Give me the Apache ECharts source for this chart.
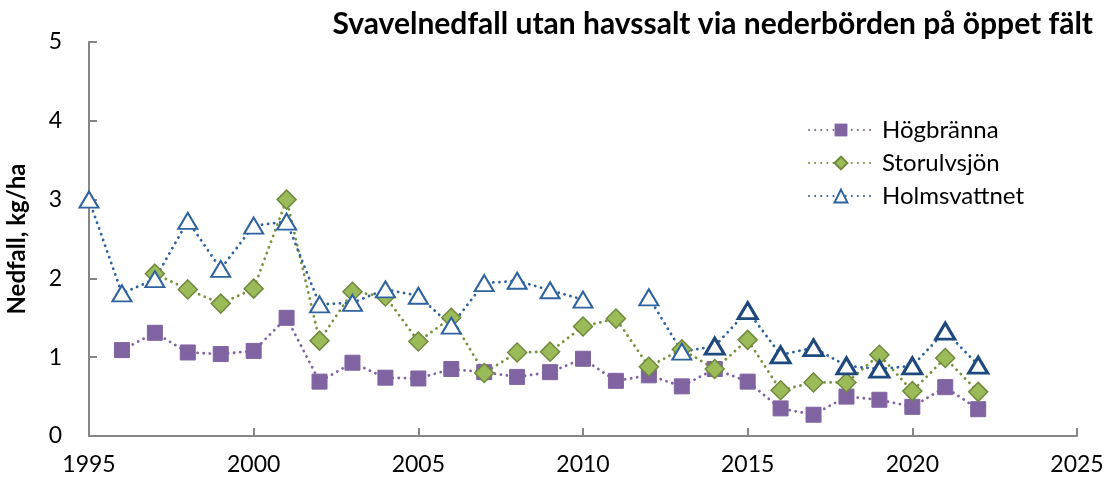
<!DOCTYPE html>
<html>
<head>
<meta charset="utf-8">
<script src="https://cdn.jsdelivr.net/npm/echarts@6/dist/echarts.min.js"></script>
<style>
  html, body { margin: 0; padding: 0; background: #fff; }
  #chart { width: 1110px; height: 484px; }
</style>
</head>
<body>
<div id="chart"></div>
<script>
// Svavelnedfall, kg/ha per år
const years = [1995, 1996, 1997, 1998, 1999, 2000, 2001, 2002, 2003, 2004, 2005, 2006, 2007, 2008,
               2009, 2010, 2011, 2012, 2013, 2014, 2015, 2016, 2017, 2018, 2019, 2020, 2021, 2022];
const hogbranna = [null, 1.09, 1.31, 1.06, 1.04, 1.08, 1.50, 0.69, 0.93, 0.74, 0.73, 0.85, 0.81, 0.75,
                   0.81, 0.98, 0.70, 0.77, 0.63, 0.85, 0.69, 0.35, 0.27, 0.50, 0.46, 0.37, 0.62, 0.34];
const storulvsjon = [null, null, 2.06, 1.86, 1.68, 1.87, 3.00, 1.21, 1.83, 1.77, 1.20, 1.50, 0.80, 1.06,
                     1.07, 1.39, 1.49, 0.88, 1.10, 0.85, 1.22, 0.58, 0.68, 0.68, 1.03, 0.57, 0.99, 0.56];
const holmsvattnet = [3.00, 1.81, 1.99, 2.73, 2.12, 2.67, 2.72, 1.67, 1.69, 1.86, 1.78, 1.40, 1.94, 1.97,
                      1.85, 1.73, null, 1.76, 1.07, 1.14, 1.59, 1.03, 1.12, 0.89, 0.85, 0.89, 1.33, 0.90];
const yTicks = [0, 1, 2, 3, 4, 5];
const xTicks = [1995, 2000, 2005, 2010, 2015, 2020, 2025];

const font = 'Lato, "Open Sans", sans-serif';
const dotted = { type: [0.1, 6], cap: 'round', width: 2.8 };

function pairs(vals) {
    return years.map((y, i) => [y, vals[i]]);
}

const chart = echarts.init(document.getElementById('chart'));
chart.setOption({
    animation: false,
    textStyle: { fontFamily: font },
    title: {
        text: 'Svavelnedfall utan havssalt via nederbörden på öppet fält',
        right: 12, top: 4,
        textStyle: { fontFamily: font, fontSize: 30, fontWeight: 'bold', color: '#000' }
    },
    grid: { left: 89, right: 33, top: 42, bottom: 48, containLabel: false, outerBoundsMode: 'none' },
    legend: {
        orient: 'vertical',
        left: 803, top: 113,
        itemWidth: 64, itemHeight: 16, itemGap: 9,
        textStyle: { fontFamily: font, fontSize: 24, color: '#000', padding: [0, 0, 0, 4] },
        data: ['Högbränna', 'Storulvsjön', 'Holmsvattnet']
    },
    xAxis: {
        type: 'value',
        min: xTicks[0], max: xTicks[xTicks.length - 1], interval: 5,
        axisLine: { lineStyle: { color: '#868686', width: 2 } },
        axisTick: { show: true, inside: true, length: 8, lineStyle: { color: '#868686', width: 2 } },
        axisLabel: { fontFamily: font, fontSize: 23, color: '#000', margin: 17, formatter: v => String(v) },
        splitLine: { show: false }
    },
    yAxis: {
        type: 'value',
        min: yTicks[0], max: yTicks[yTicks.length - 1], interval: 1,
        name: 'Nedfall, kg/ha',
        nameLocation: 'middle',
        nameGap: 60,
        nameTextStyle: { fontFamily: font, fontSize: 24, fontWeight: 'bold', color: '#000' },
        axisLine: { show: true, lineStyle: { color: '#868686', width: 2 } },
        axisTick: { show: true, inside: true, length: 8, lineStyle: { color: '#868686', width: 2 } },
        axisLabel: { fontFamily: font, fontSize: 23, color: '#000', margin: 27 },
        splitLine: { show: false }
    },
    series: [
        {
            name: 'Högbränna',
            type: 'line',
            data: pairs(hogbranna),
            symbol: 'rect', symbolSize: 15,
            itemStyle: { color: '#8064A2', borderColor: '#8064A2' },
            lineStyle: Object.assign({ color: '#8064A2' }, dotted)
        },
        {
            name: 'Storulvsjön',
            type: 'line',
            data: pairs(storulvsjon),
            symbol: 'diamond', symbolSize: 19,
            itemStyle: { color: '#9BBB59', borderColor: '#71893F', borderWidth: 1.5 },
            lineStyle: Object.assign({ color: '#77933C' }, dotted)
        },
        {
            name: 'Holmsvattnet',
            type: 'line',
            data: years.map((y, i) => {
                const p = { value: [y, holmsvattnet[i]] };
                if (y >= 2014) p.itemStyle = { borderColor: '#1F497D', borderWidth: 3 };
                return p;
            }),
            symbol: 'triangle', symbolSize: [19, 16],
            itemStyle: { color: '#fff', borderColor: '#2E63A0', borderWidth: 2 },
            lineStyle: Object.assign({ color: '#2E63A0' }, dotted)
        }
    ]
});
window.addEventListener('resize', () => chart.resize());
</script>
</body>
</html>
